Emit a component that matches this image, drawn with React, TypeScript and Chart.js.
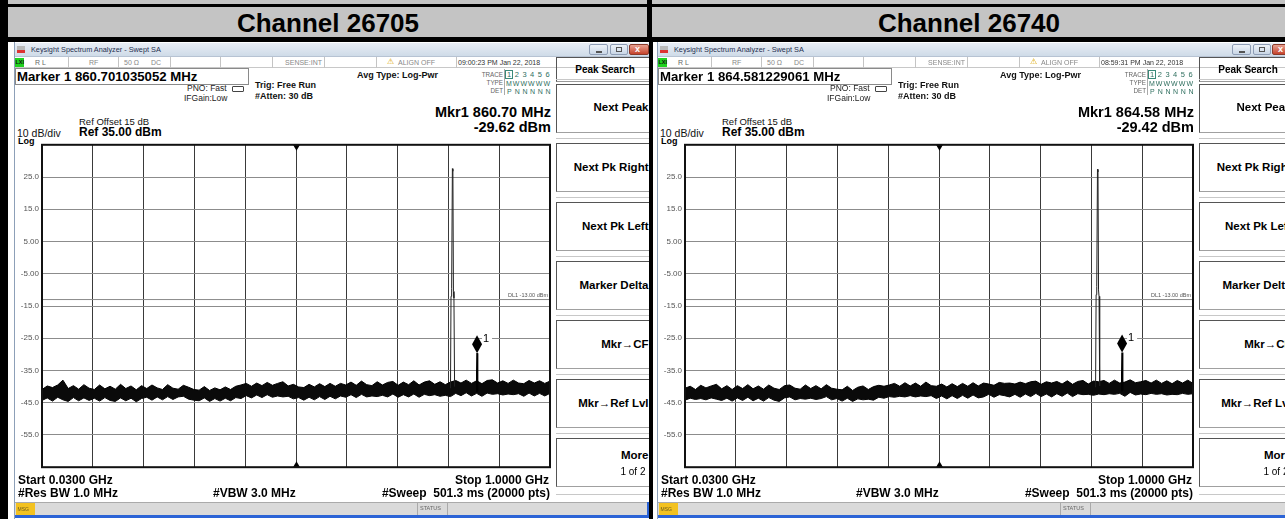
import React, { useEffect, useRef } from "react";
import { Chart, registerables } from "chart.js";

Chart.register(...registerables);

const FONT = '"Liberation Sans", Arial, Helvetica, sans-serif';
Chart.defaults.font.family = FONT;

// ---------------- DATA ----------------
const START_MHZ = 30;
const STOP_MHZ = 1000;
const CENTER_FREQ_MHZ = 515;
const GRID_FREQ_MHZ = [30, 127, 224, 321, 418, 515, 612, 709, 806, 903, 1000];
const Y_TICKS = [-65, -55, -45, -35, -25, -15, -5, 5, 15, 25, 35];
const Y_TICK_LABELS = ["", "-55.0", "-45.0", "-35.0", "-25.0", "-15.0", "-5.00", "5.00", "15.0", "25.0", ""];
const DISPLAY_LINE_DBM = -13;
const DL_LABEL = "DL1 -13.00 dBm";

const FREQ_MHZ = [
  30, 40, 50, 60, 70, 80, 90, 100, 110, 120, 130, 140, 150, 160, 170, 180, 190, 200, 210, 220,
  230, 240, 250, 260, 270, 280, 290, 300, 310, 320, 330, 340, 350, 360, 370, 380, 390, 400, 410, 420,
  430, 440, 450, 460, 470, 480, 490, 500, 510, 520, 530, 540, 550, 560, 570, 580, 590, 600, 610, 620,
  630, 640, 650, 660, 670, 680, 690, 700, 710, 720, 730, 740, 750, 760, 770, 780, 790, 800, 810, 820,
  830, 840, 850, 860, 870, 880, 890, 900, 910, 920, 930, 940, 950, 960, 970, 980, 990, 1000,
];

// Channel 26705 noise floor envelope (dBm)
const CH1_NOISE_TOP = [
  -40.9, -39.8, -40.3, -39.5, -38.0, -40.6, -39.7, -40.8, -39.4, -40.5,
  -40.9, -39.5, -40.7, -39.9, -40.8, -39.3, -40.6, -39.8, -41.0, -39.7,
  -40.6, -39.5, -40.4, -40.9, -39.4, -40.5, -40.8, -39.6, -40.2, -40.9,
  -41.1, -40.0, -41.2, -40.4, -41.0, -40.1, -40.9, -39.9, -39.5, -39.0,
  -39.9, -38.9, -39.7, -38.7, -39.6, -39.0, -38.5, -39.8, -39.3, -40.1,
  -40.3, -39.3, -40.1, -39.1, -40.0, -39.0, -39.9, -39.0, -39.5, -38.6,
  -39.6, -38.3, -39.4, -39.7, -38.5, -39.5, -38.7, -38.4, -39.6, -38.6,
  -39.4, -38.2, -39.5, -38.6, -38.2, -39.3, -38.5, -39.4, -38.6, -38.1,
  -38.9, -38.0, -39.0, -38.2, -39.1, -38.1, -37.9, -38.9, -38.2, -39.0,
  -38.0, -38.9, -39.1, -38.1, -38.9, -38.2, -39.0, -38.3,
];
const CH1_NOISE_BOTTOM = [
  -44.3, -43.5, -44.5, -43.3, -44.1, -44.6, -43.4, -44.4, -43.5, -44.3,
  -43.6, -44.5, -43.4, -44.3, -44.6, -43.5, -44.4, -43.6, -44.7, -43.7,
  -43.3, -44.2, -43.2, -44.1, -43.1, -44.0, -43.2, -43.0, -43.9, -44.2,
  -44.4, -43.5, -44.6, -43.7, -44.5, -43.6, -44.4, -43.4, -43.7, -42.8,
  -43.5, -42.6, -43.4, -42.5, -43.3, -42.9, -43.2, -43.0, -43.8, -43.4,
  -44.2, -43.3, -44.1, -43.1, -44.0, -43.0, -43.8, -42.9, -43.3, -42.5,
  -43.4, -42.4, -43.2, -42.9, -43.1, -42.7, -43.2, -42.3, -43.3, -42.5,
  -43.2, -42.3, -43.3, -42.4, -42.8, -42.5, -43.0, -42.7, -43.1, -42.1,
  -42.8, -41.9, -42.9, -42.1, -43.0, -42.0, -42.4, -42.2, -42.6, -42.3,
  -42.5, -42.2, -43.0, -42.0, -42.9, -42.1, -42.9, -42.1,
];
const CH1_SIGNAL_FREQ = [810.0, 811.0, 812.2, 813.6, 814.6, 815.6, 816.6, 817.8];
const CH1_SIGNAL_DBM = [-40.5, -12.0, -9.5, 27.6, 26.8, -10.5, -12.5, -40.0];
const CH1_SPUR_FREQ = [859.2, 860.2, 860.701035052, 861.2, 862.2];
const CH1_SPUR_DBM = [-41.5, -36.0, -29.62, -36.5, -41.5];
const CH1_MARKER_MHZ = 860.701035052;
const CH1_MARKER_DBM = -29.62;

// Channel 26740 noise floor envelope (dBm)
const CH2_NOISE_TOP = [
  -40.5, -39.9, -40.9, -39.6, -40.4, -39.8, -39.3, -40.7, -39.7, -40.9,
  -39.7, -40.6, -39.4, -40.7, -39.8, -40.8, -39.5, -40.5, -40.9, -39.7,
  -39.5, -40.5, -40.8, -39.5, -40.6, -39.7, -40.7, -39.4, -40.5, -40.8,
  -41.0, -39.9, -41.2, -40.2, -39.8, -40.9, -40.0, -39.6, -39.9, -39.5,
  -39.0, -39.9, -38.8, -39.8, -38.9, -39.9, -38.6, -39.7, -39.9, -39.2,
  -40.1, -39.1, -40.0, -39.0, -39.9, -38.8, -39.8, -38.9, -39.2, -39.6,
  -38.7, -39.0, -38.9, -39.2, -38.6, -39.1, -38.5, -38.3, -39.3, -38.5,
  -38.9, -38.4, -39.2, -38.2, -39.3, -38.4, -38.1, -39.2, -38.3, -38.5,
  -38.1, -39.0, -38.0, -38.9, -38.6, -37.9, -38.8, -38.5, -38.1, -38.9,
  -38.0, -39.0, -38.2, -39.1, -38.1, -38.9, -38.0, -39.0,
];
const CH2_NOISE_BOTTOM = [
  -44.2, -43.6, -44.0, -43.7, -44.1, -43.5, -43.9, -44.3, -43.6, -44.5,
  -43.5, -44.3, -43.3, -44.4, -43.6, -44.5, -43.4, -44.2, -44.6, -43.5,
  -43.2, -44.1, -43.7, -43.9, -43.6, -44.0, -43.7, -43.1, -44.1, -43.7,
  -44.5, -43.6, -44.6, -43.8, -44.1, -43.9, -44.2, -43.3, -43.6, -43.1,
  -43.3, -43.0, -43.2, -42.8, -43.2, -42.9, -43.1, -42.8, -43.7, -42.9,
  -43.8, -42.8, -43.7, -42.7, -43.6, -42.6, -43.5, -43.2, -42.4, -43.3,
  -42.5, -42.8, -43.2, -42.4, -43.3, -42.3, -43.1, -42.1, -43.1, -42.3,
  -43.2, -42.2, -43.0, -42.0, -43.1, -42.2, -42.5, -42.4, -42.7, -42.3,
  -42.5, -42.2, -42.4, -42.1, -43.0, -41.8, -42.6, -42.3, -42.5, -42.1,
  -42.4, -42.2, -42.6, -42.4, -42.5, -42.1, -42.4, -42.2,
];
const CH2_SIGNAL_FREQ = [814.0, 815.0, 816.2, 817.6, 818.6, 819.6, 820.6, 821.8];
const CH2_SIGNAL_DBM = [-40.2, -11.5, -9.0, 27.4, 26.6, -10.0, -12.0, -39.8];
const CH2_SPUR_FREQ = [863.1, 864.1, 864.581229061, 865.1, 866.1];
const CH2_SPUR_DBM = [-41.3, -35.5, -29.42, -36.0, -41.2];
const CH2_MARKER_MHZ = 864.581229061;
const CH2_MARKER_DBM = -29.42;

// ---------------- CHART ----------------
const pts = (xs: number[], ys: number[]) => xs.map((x, i) => ({ x, y: ys[i] }));

const overlayPlugin = {
  id: "overlay",
  afterDatasetsDraw(chart: any, _args: any, opts: any) {
    const { ctx, chartArea: a, scales } = chart;
    const xs = scales.x;
    const ys = scales.y;
    ctx.save();
    const dly = ys.getPixelForValue(DISPLAY_LINE_DBM);
    ctx.font = `5.5px ${FONT}`;
    ctx.fillStyle = "#555";
    ctx.textAlign = "right";
    ctx.textBaseline = "alphabetic";
    ctx.fillText(DL_LABEL, a.right - 2, dly - 2.5);

    const cx = Math.round(xs.getPixelForValue(CENTER_FREQ_MHZ)) + 0.5;
    ctx.fillStyle = "#000";
    ctx.beginPath();
    ctx.moveTo(cx - 3.5, a.top);
    ctx.lineTo(cx + 3.5, a.top);
    ctx.lineTo(cx, a.top + 6);
    ctx.closePath();
    ctx.fill();
    ctx.beginPath();
    ctx.moveTo(cx - 3.5, a.bottom);
    ctx.lineTo(cx + 3.5, a.bottom);
    ctx.lineTo(cx, a.bottom - 6);
    ctx.closePath();
    ctx.fill();

    const mx = xs.getPixelForValue(opts.markerF);
    const my = ys.getPixelForValue(opts.markerD);
    ctx.fillStyle = "#fff";
    ctx.fillRect(mx + 5, my - 20, 10, 11);
    ctx.fillStyle = "#000";
    ctx.beginPath();
    ctx.moveTo(mx, my);
    ctx.lineTo(mx + 5, my - 9);
    ctx.lineTo(mx, my - 18);
    ctx.lineTo(mx - 5, my - 9);
    ctx.closePath();
    ctx.fill();
    ctx.font = `11px ${FONT}`;
    ctx.textAlign = "left";
    ctx.fillText("1", mx + 6, my - 11);

    ctx.strokeStyle = "#111";
    ctx.lineWidth = 2;
    ctx.strokeRect(a.left, a.top, a.right - a.left, a.bottom - a.top);
    ctx.restore();
  },
};

type TraceProps = {
  top: number[];
  bottom: number[];
  sigF: number[];
  sigD: number[];
  spurF: number[];
  spurD: number[];
  markerF: number;
  markerD: number;
};

function SpectrumChart(p: TraceProps) {
  const ref = useRef<HTMLCanvasElement>(null);
  useEffect(() => {
    const line = { pointRadius: 0, tension: 0, borderColor: "#000" };
    const chart = new Chart(ref.current as HTMLCanvasElement, {
      type: "line",
      data: {
        datasets: [
          { ...line, data: pts(p.sigF, p.sigD), borderWidth: 1, fill: false, borderColor: "#222" },
          { ...line, data: pts(p.spurF, p.spurD), borderWidth: 1.6, fill: false },
          { ...line, data: pts(FREQ_MHZ, p.top), borderWidth: 1, fill: "+1", backgroundColor: "#0a0a0a" },
          { ...line, data: pts(FREQ_MHZ, p.bottom), borderWidth: 1, fill: false },
          {
            ...line,
            data: pts([START_MHZ, STOP_MHZ], [DISPLAY_LINE_DBM, DISPLAY_LINE_DBM]),
            borderWidth: 1,
            borderColor: "#8a8a8a",
            fill: false,
          },
        ],
      } as any,
      options: {
        animation: false,
        responsive: false,
        devicePixelRatio: 1,
        events: [],
        layout: { padding: { left: 0, right: 2, top: 4, bottom: 4 } },
        plugins: {
          legend: { display: false },
          tooltip: { enabled: false },
          overlay: { markerF: p.markerF, markerD: p.markerD },
        } as any,
        scales: {
          x: {
            type: "linear",
            min: START_MHZ,
            max: STOP_MHZ,
            afterBuildTicks: (s: any) => {
              s.ticks = GRID_FREQ_MHZ.map((v) => ({ value: v }));
            },
            afterFit: (s: any) => {
              s.height = 0;
            },
            ticks: { display: false },
            grid: { color: "#3a3a3a", drawTicks: false, lineWidth: 1 },
            border: { display: false },
          },
          y: {
            type: "linear",
            min: -65,
            max: 35,
            afterBuildTicks: (s: any) => {
              s.ticks = Y_TICKS.map((v) => ({ value: v }));
            },
            afterFit: (s: any) => {
              s.width = 26;
            },
            ticks: {
              autoSkip: false,
              padding: 3,
              color: "#555",
              font: { size: 8, family: FONT },
              callback: (_v: any, i: number) => Y_TICK_LABELS[i],
            },
            grid: { color: "#8c8c8c", drawTicks: false, lineWidth: 1 },
            border: { display: false },
          },
        },
      } as any,
      plugins: [overlayPlugin as any],
    });
    return () => chart.destroy();
  }, []);
  return (
    <canvas
      ref={ref}
      width={536}
      height={338}
      style={{ position: "absolute", left: 16, top: 137, width: 536, height: 338 }}
    />
  );
}

// ---------------- UI CHROME ----------------
function T(props: {
  x?: number;
  rx?: number;
  cx?: number;
  cy: number;
  s: number;
  b?: boolean;
  c?: string;
  ls?: number;
  children: React.ReactNode;
}) {
  const { x, rx, cx, cy, s, b, c = "#000", ls, children } = props;
  const st: React.CSSProperties = {
    position: "absolute",
    top: cy - 0.49 * s,
    fontSize: s,
    lineHeight: `${s}px`,
    fontWeight: b ? 700 : 400,
    color: c,
    whiteSpace: "pre",
    fontFamily: FONT,
    letterSpacing: ls,
  };
  if (rx !== undefined) {
    st.left = rx - 400;
    st.width = 400;
    st.textAlign = "right";
  } else if (cx !== undefined) {
    st.left = cx - 200;
    st.width = 400;
    st.textAlign = "center";
  } else {
    st.left = x;
  }
  return <div style={st}>{children}</div>;
}

function Box(props: { x: number; y: number; w: number; h: number; style?: React.CSSProperties; children?: React.ReactNode }) {
  return (
    <div
      style={{
        position: "absolute",
        left: props.x,
        top: props.y,
        width: props.w,
        height: props.h,
        boxSizing: "border-box",
        ...props.style,
      }}
    >
      {props.children}
    </div>
  );
}

const KEY_LABELS = ["Next Peak", "Next Pk Right", "Next Pk Left", "Marker Delta", "Mkr\u2192CF", "Mkr\u2192Ref Lvl", "More"];
const TRACE_NUMS = ["1", "2", "3", "4", "5", "6"];
const TRACE_TYPES = ["M", "W", "W", "W", "W", "W"];
const TRACE_DETS = ["P", "N", "N", "N", "N", "N"];

type PanelProps = TraceProps & {
  dx: number;
  time: string;
  markerText: string;
  mkrFreq: string;
  mkrAmp: string;
};

function Panel(p: PanelProps) {
  const statusSeps = [68, 118, 170, 220, 272, 324, 376, 456];
  return (
    <div style={{ position: "absolute", left: p.dx, top: 0, width: 660, height: 519 }}>
      {/* window */}
      <Box x={14} y={42} w={635} h={477} style={{ background: "#fff", borderLeft: "1px solid #8da0b8" }} />
      {/* title bar */}
      <Box
        x={15}
        y={43}
        w={634}
        h={14}
        style={{ background: "linear-gradient(#e9eef5, #cfdbe8)", borderBottom: "1px solid #b7c3d3" }}
      />
      <Box x={17} y={46} w={8} h={4} style={{ background: "#b9b9b9" }} />
      <Box x={17} y={50} w={8} h={3} style={{ background: "#d33" }} />
      <T x={31} cy={50} s={7.3} c="#1f2f4f">Keysight Spectrum Analyzer - Swept SA</T>
      <Box x={589} y={44} w={19} h={11} style={{ background: "linear-gradient(#eef3f9,#c9d6e6)", border: "1px solid #8e9db5", borderRadius: 2 }}>
        <div style={{ position: "absolute", left: 6, top: 6, width: 6, height: 2, background: "#555" }} />
      </Box>
      <Box x={610} y={44} w={18} h={11} style={{ background: "linear-gradient(#eef3f9,#c9d6e6)", border: "1px solid #8e9db5", borderRadius: 2 }}>
        <div style={{ position: "absolute", left: 5, top: 2, width: 6, height: 5, border: "1px solid #555", boxSizing: "border-box" }} />
      </Box>
      <Box x={629} y={44} w={20} h={11} style={{ background: "linear-gradient(#e9a08f,#c5432c)", border: "1px solid #8a3a2a", borderRadius: 2 }}>
        <div style={{ position: "absolute", left: 5, top: -1, fontSize: 9, color: "#fff", fontWeight: 700, fontFamily: FONT }}>x</div>
      </Box>

      {/* status row */}
      <Box x={15} y={57} w={634} h={11} style={{ background: "#fff", borderBottom: "1px solid #c8c8c8" }} />
      <Box x={15} y={58} w={9} h={9} style={{ background: "#1fd21f" }} />
      <T x={15.5} cy={62.5} s={5.5} b c="#111">LXI</T>
      {statusSeps.map((sx, i) => (
        <Box key={i} x={sx} y={57} w={1} h={11} style={{ background: "#c4c4c4" }} />
      ))}
      <T x={35} cy={62.5} s={7} c="#666">R L</T>
      <T x={89} cy={62.5} s={7} c="#888">RF</T>
      <T x={124} cy={62.5} s={7} c="#888">{"50 \u03a9"}</T>
      <T x={151} cy={62.5} s={7} c="#888">DC</T>
      <T rx={322} cy={62.5} s={7} c="#888">SENSE:INT</T>
      <T x={387} cy={62} s={8} c="#d9a400">{"\u26a0"}</T>
      <T x={398} cy={62.5} s={7} c="#888">ALIGN OFF</T>
      <T x={458} cy={62.5} s={7} c="#333">{p.time}</T>

      {/* marker box */}
      <Box x={15} y={68} w={234} h={17} style={{ border: "1px solid #8a8a8a", background: "#fff" }} />
      <T x={17} cy={76.5} s={13.2} b>{p.markerText}</T>

      <T x={187} cy={88.5} s={8.5} c="#222">PNO: Fast</T>
      <Box x={232} y={86} w={12} h={6} style={{ border: "1px solid #444", borderRadius: 1 }} />
      <T x={184} cy={98.5} s={8.5} c="#222">IFGain:Low</T>
      <T x={255} cy={85.5} s={9} b c="#111">Trig: Free Run</T>
      <T x={255} cy={96.5} s={9} b c="#111">#Atten: 30 dB</T>
      <T x={357} cy={75} s={9} b c="#111">Avg Type: Log-Pwr</T>

      <T rx={503} cy={75} s={6.3} c="#666">TRACE</T>
      <T rx={503} cy={83} s={6.3} c="#666">TYPE</T>
      <T rx={503} cy={91} s={6.3} c="#666">DET</T>
      <Box x={504} y={69} w={1} h={26} style={{ background: "#aaa" }} />
      <Box x={505} y={70} w={8} h={9} style={{ border: "1px solid #3a8a7a" }} />
      {TRACE_NUMS.map((t, i) => (
        <T key={"n" + i} x={507 + i * 7.7} cy={75} s={7.5} c="#2f6f5f">{t}</T>
      ))}
      {TRACE_TYPES.map((t, i) => (
        <T key={"t" + i} x={506 + i * 7.7 - (i > 0 ? 1 : 0)} cy={83} s={7} c="#2f6f5f">{t}</T>
      ))}
      {TRACE_DETS.map((t, i) => (
        <T key={"d" + i} x={507 + i * 7.7} cy={91} s={7} c="#2f6f5f">{t}</T>
      ))}

      <T x={79} cy={121.5} s={9.5} c="#111">Ref Offset 15 dB</T>
      <T x={79} cy={132} s={12} b>Ref 35.00 dBm</T>
      <T x={17} cy={133} s={10.5} c="#111">10 dB/div</T>
      <T x={18} cy={141} s={9} b>Log</T>
      <T rx={551} cy={112.5} s={14.5} b>{p.mkrFreq}</T>
      <T rx={551} cy={127} s={14.5} b>{p.mkrAmp}</T>

      <SpectrumChart {...p} />

      <T x={18} cy={480} s={12} b>Start 0.0300 GHz</T>
      <T x={18} cy={493} s={12} b>#Res BW 1.0 MHz</T>
      <T x={213} cy={493} s={12} b>#VBW 3.0 MHz</T>
      <T rx={549} cy={480} s={12} b>Stop 1.0000 GHz</T>
      <T rx={550} cy={493} s={12} b>{"#Sweep  501.3 ms (20000 pts)"}</T>

      {/* softkeys */}
      <div style={{ position: "absolute", left: 556, top: 57, width: 93, height: 445, overflow: "hidden" }}>
        <Box x={0} y={0} w={120} h={25} style={{ borderTop: "1px solid #555", borderLeft: "1px solid #555", borderBottom: "1px solid #999" }} />
        <T cx={49} cy={13} s={10} b>Peak Search</T>
        {KEY_LABELS.map((k, i) => {
          const t = 26.5 + i * 59.15;
          return (
            <React.Fragment key={k}>
              <Box x={0} y={t - 5} w={120} h={1} style={{ background: "#c8c8c8" }} />
              <Box
                x={0}
                y={t}
                w={120}
                h={49}
                style={{ borderTop: "1px solid #555", borderLeft: "1px solid #555", borderBottom: "1px solid #a0a0a0", background: "#fff" }}
              />
              {k === "More" ? (
                <>
                  <T rx={92.5} cy={t + 17} s={11.5} b>{k}</T>
                  <T rx={89.5} cy={t + 33} s={10}>1 of 2</T>
                </>
              ) : (
                <T rx={92.5} cy={t + 24.5} s={11.5} b>{k}</T>
              )}
            </React.Fragment>
          );
        })}
        <Box x={0} y={437} w={120} h={1} style={{ background: "#c8c8c8" }} />
      </div>

      {/* status bar */}
      <Box x={15} y={502} w={634} h={13} style={{ background: "#dadada", borderTop: "1px solid #aaa" }} />
      <Box x={16} y={503} w={19} h={12} style={{ background: "#f3c221" }} />
      <T x={17.5} cy={509} s={5} c="#6a5a20">MSG</T>
      <Box x={417} y={503} w={1} h={12} style={{ background: "#aaa" }} />
      <Box x={447} y={503} w={1} h={12} style={{ background: "#aaa" }} />
      <T x={420} cy={508.5} s={5.5} c="#666">STATUS</T>
      <Box x={15} y={515} w={634} h={3} style={{ background: "#2b63d6" }} />
      <Box x={647} y={502} w={2} h={16} style={{ background: "#2b63d6" }} />
    </div>
  );
}

export default function App() {
  return (
    <div
      style={{
        position: "fixed",
        left: 0,
        top: 0,
        width: 1285,
        height: 519,
        overflow: "hidden",
        background: "#fff",
        fontFamily: FONT,
      }}
    >
      {/* header bands */}
      <Box x={0} y={0} w={1285} h={4} style={{ background: "#c4c4c4" }} />
      <Box x={0} y={4} w={1285} h={3} style={{ background: "#000" }} />
      <Box x={0} y={7} w={1285} h={30} style={{ background: "#c4c4c4" }} />
      <Box x={0} y={37} w={1285} h={5} style={{ background: "#000" }} />
      <T cx={328} cy={23} s={26} b>Channel 26705</T>
      <T cx={969} cy={23} s={26} b>Channel 26740</T>

      <Panel
        dx={0}
        time="09:00:23 PM Jan 22, 2018"
        markerText="Marker 1 860.701035052 MHz"
        mkrFreq="Mkr1 860.70 MHz"
        mkrAmp="-29.62 dBm"
        top={CH1_NOISE_TOP}
        bottom={CH1_NOISE_BOTTOM}
        sigF={CH1_SIGNAL_FREQ}
        sigD={CH1_SIGNAL_DBM}
        spurF={CH1_SPUR_FREQ}
        spurD={CH1_SPUR_DBM}
        markerF={CH1_MARKER_MHZ}
        markerD={CH1_MARKER_DBM}
      />
      <Panel
        dx={643}
        time="08:59:31 PM Jan 22, 2018"
        markerText="Marker 1 864.581229061 MHz"
        mkrFreq="Mkr1 864.58 MHz"
        mkrAmp="-29.42 dBm"
        top={CH2_NOISE_TOP}
        bottom={CH2_NOISE_BOTTOM}
        sigF={CH2_SIGNAL_FREQ}
        sigD={CH2_SIGNAL_DBM}
        spurF={CH2_SPUR_FREQ}
        spurD={CH2_SPUR_DBM}
        markerF={CH2_MARKER_MHZ}
        markerD={CH2_MARKER_DBM}
      />

      {/* black frame bars */}
      <Box x={0} y={0} w={8} h={519} style={{ background: "#000" }} />
      <Box x={647} y={0} w={5} h={42} style={{ background: "#000" }} />
      <Box x={649} y={42} w={4} h={477} style={{ background: "#000" }} />
      <Box x={653} y={42} w={4} h={477} style={{ background: "#fff" }} />
    </div>
  );
}
